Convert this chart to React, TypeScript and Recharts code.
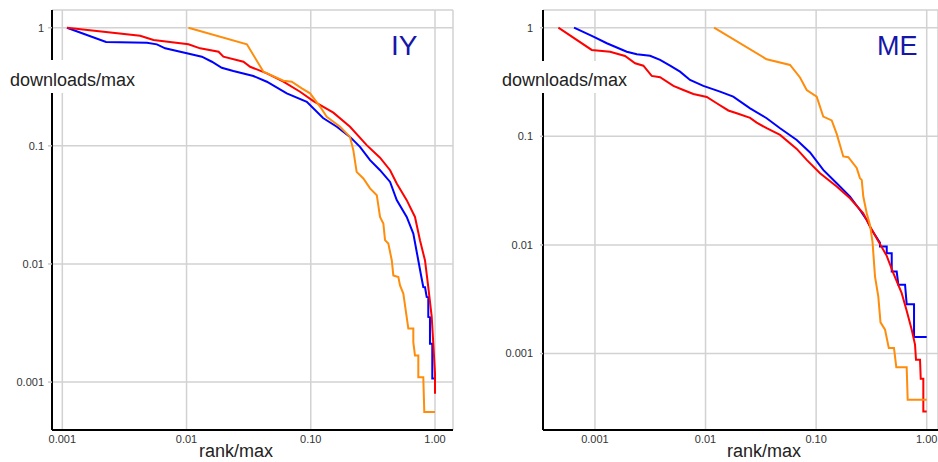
import React from "react";
import { LineChart, Line, XAxis, YAxis, CartesianGrid } from "recharts";

const FONT = '"Liberation Sans", Arial, Helvetica, sans-serif';

// tick values and labels
const xTicks = [0.001, 0.01, 0.1, 1];
const xTickLabels = ["0.001", "0.01", "0.10", "1.00"];
const yTicks = [0.001, 0.01, 0.1, 1];
const yTickLabels = ["0.001", "0.01", "0.1", "1"];

// ---- IY panel ----
const iyBlueRank = [0.00109, 0.00225, 0.0048, 0.00577, 0.00673, 0.01005, 0.01328, 0.016, 0.0192, 0.0238, 0.0345, 0.0443, 0.0641, 0.0929, 0.1256, 0.162, 0.207, 0.249, 0.3, 0.361, 0.435, 0.492, 0.592, 0.669, 0.734, 0.772, 0.805, 0.831, 0.857, 0.883, 0.883, 0.911, 0.911, 0.951, 0.951, 0.982];
const iyBlueDownloads = [1, 0.757, 0.746, 0.723, 0.669, 0.607, 0.568, 0.515, 0.458, 0.43, 0.39, 0.349, 0.278, 0.236, 0.172, 0.145, 0.119, 0.098, 0.0757, 0.0622, 0.0495, 0.0347, 0.025, 0.0181, 0.0107, 0.00802, 0.00638, 0.00635, 0.00525, 0.00522, 0.00356, 0.00353, 0.00211, 0.00211, 0.00107, 0.00107];

const iyRedRank = [0.00109, 0.00423, 0.00542, 0.01036, 0.01286, 0.0181, 0.0198, 0.0287, 0.0325, 0.0443, 0.0602, 0.082, 0.105, 0.152, 0.207, 0.282, 0.361, 0.435, 0.492, 0.592, 0.69, 0.757, 0.831, 0.883, 0.941, 0.969, 1.0, 1.0];
const iyRedDownloads = [1, 0.855, 0.787, 0.723, 0.669, 0.626, 0.568, 0.515, 0.467, 0.411, 0.349, 0.287, 0.239, 0.191, 0.145, 0.1014, 0.0794, 0.0622, 0.048, 0.0347, 0.025, 0.0159, 0.0107, 0.00638, 0.00356, 0.00211, 0.00118, 0.000797];

const iyOrangeRank = [0.01036, 0.0306, 0.0416, 0.0602, 0.0703, 0.0847, 0.0987, 0.119, 0.1345, 0.172, 0.207, 0.22, 0.234, 0.265, 0.3, 0.34, 0.361, 0.384, 0.396, 0.421, 0.449, 0.462, 0.507, 0.523, 0.556, 0.61, 0.669, 0.669, 0.69, 0.734, 0.734, 0.805, 0.82, 1.0];
const iyOrangeDownloads = [1, 0.723, 0.424, 0.356, 0.349, 0.306, 0.278, 0.214, 0.176, 0.145, 0.119, 0.092, 0.0602, 0.0529, 0.0436, 0.0382, 0.025, 0.022, 0.0159, 0.0149, 0.0107, 0.008, 0.00776, 0.00659, 0.00561, 0.00284, 0.00284, 0.00218, 0.00168, 0.00168, 0.0011, 0.0011, 0.000557, 0.000557];

// ---- ME panel ----
const meBlueRank = [0.000647, 0.000968, 0.00128, 0.00194, 0.00239, 0.00315, 0.00388, 0.00478, 0.00588, 0.00724, 0.00955, 0.01352, 0.0178, 0.0253, 0.0357, 0.0472, 0.0668, 0.0881, 0.116, 0.1535, 0.2025, 0.249, 0.2868, 0.318, 0.378, 0.378, 0.435, 0.435, 0.4826, 0.4826, 0.5354, 0.554, 0.637, 0.659, 0.768, 0.768, 1.0];
const meBlueDownloads = [1, 0.826, 0.719, 0.601, 0.569, 0.552, 0.505, 0.447, 0.394, 0.33, 0.291, 0.258, 0.232, 0.181, 0.1467, 0.1187, 0.0927, 0.0711, 0.0491, 0.037, 0.0279, 0.021, 0.017, 0.01377, 0.01045, 0.00966, 0.00966, 0.0084, 0.0084, 0.00569, 0.00569, 0.0043, 0.0043, 0.00285, 0.00285, 0.00142, 0.00142];

const meRedRank = [0.000467, 0.000935, 0.00137, 0.00187, 0.00231, 0.00274, 0.00326, 0.00388, 0.00512, 0.0063, 0.00776, 0.01026, 0.01262, 0.01607, 0.01914, 0.0253, 0.029, 0.0357, 0.0472, 0.0668, 0.0822, 0.1085, 0.1535, 0.2025, 0.267, 0.307, 0.353, 0.435, 0.499, 0.594, 0.659, 0.732, 0.784, 0.8, 0.87, 0.883, 0.932, 0.932, 1.0];
const meRedDownloads = [1, 0.624, 0.601, 0.549, 0.47, 0.447, 0.36, 0.35, 0.291, 0.267, 0.2455, 0.2304, 0.2016, 0.173, 0.163, 0.148, 0.1337, 0.1187, 0.103, 0.0766, 0.0607, 0.0458, 0.0345, 0.0269, 0.0196, 0.01476, 0.01155, 0.00794, 0.0055, 0.0036, 0.00248, 0.00166, 0.00121, 0.000877, 0.000877, 0.000586, 0.000586, 0.000293, 0.000293];

const meOrangeRank = [0.01194, 0.0357, 0.0581, 0.0715, 0.0822, 0.1012, 0.116, 0.1384, 0.1535, 0.176, 0.1955, 0.2328, 0.249, 0.2584, 0.267, 0.2868, 0.307, 0.3236, 0.3408, 0.365, 0.382, 0.42, 0.4543, 0.506, 0.531, 0.659, 0.673, 1.0];
const meOrangeDownloads = [1, 0.512, 0.454, 0.348, 0.267, 0.232, 0.152, 0.14, 0.1052, 0.0653, 0.0642, 0.0512, 0.0412, 0.0397, 0.0279, 0.0196, 0.0153, 0.01068, 0.00512, 0.00335, 0.00194, 0.00166, 0.001124, 0.001124, 0.000748, 0.000748, 0.000376, 0.000376];

const BLUE = "#0000ff";
const RED = "#ff0000";
const ORANGE = "#ff8c0a";

const zip = (xs: number[], ys: number[]) => xs.map((x, i) => ({ x, y: ys[i] }));

const fmtX = (v: number) => {
  const i = xTicks.indexOf(v);
  return i >= 0 ? xTickLabels[i] : String(v);
};
const fmtY = (v: number) => {
  const i = yTicks.indexOf(v);
  return i >= 0 ? yTickLabels[i] : String(v);
};

type Series = { name: string; color: string; data: { x: number; y: number }[] };

function Panel(props: {
  left: number;
  width: number;
  yAxisWidth: number;
  marginRight: number;
  xDomain: [number, number];
  yDomain: [number, number];
  yTickSize: number;
  yTickMargin: number;
  series: Series[];
}) {
  const { left, width, yAxisWidth, marginRight, xDomain, yDomain, yTickSize, yTickMargin, series } = props;
  return (
    <div style={{ position: "absolute", left, top: 0 }}>
      <LineChart width={width} height={462} margin={{ top: 10, right: marginRight, bottom: 0, left: 0 }}>
        <CartesianGrid stroke="#d2d2d2" strokeWidth={1.5} />
        <XAxis
          type="number"
          dataKey="x"
          scale="log"
          domain={xDomain}
          allowDataOverflow
          ticks={xTicks}
          interval={0}
          tickFormatter={fmtX}
          height={32}
          tickSize={0}
          tickMargin={5}
          tickLine={false}
          axisLine={{ stroke: "#000", strokeWidth: 2 }}
          tick={{ fill: "#333", fontSize: 11, fontFamily: FONT }}
        />
        <YAxis
          type="number"
          dataKey="y"
          scale="log"
          domain={yDomain}
          allowDataOverflow
          ticks={yTicks}
          interval={0}
          tickFormatter={fmtY}
          width={yAxisWidth}
          tickSize={yTickSize}
          tickMargin={yTickMargin}
          tickLine={{ stroke: "#c8c8c8", strokeWidth: 1.5 }}
          axisLine={{ stroke: "#000", strokeWidth: 2 }}
          tick={{ fill: "#333", fontSize: 11, fontFamily: FONT }}
        />
        {series.map((s) => (
          <Line
            key={s.name}
            name={s.name}
            data={s.data}
            dataKey="y"
            type="linear"
            stroke={s.color}
            strokeWidth={2}
            dot={false}
            activeDot={false}
            isAnimationActive={false}
          />
        ))}
      </LineChart>
    </div>
  );
}

export default function App() {
  const iySeries: Series[] = [
    { name: "blue", color: BLUE, data: zip(iyBlueRank, iyBlueDownloads) },
    { name: "red", color: RED, data: zip(iyRedRank, iyRedDownloads) },
    { name: "orange", color: ORANGE, data: zip(iyOrangeRank, iyOrangeDownloads) },
  ];
  const meSeries: Series[] = [
    { name: "blue", color: BLUE, data: zip(meBlueRank, meBlueDownloads) },
    { name: "red", color: RED, data: zip(meRedRank, meRedDownloads) },
    { name: "orange", color: ORANGE, data: zip(meOrangeRank, meOrangeDownloads) },
  ];
  return (
    <div style={{ position: "absolute", left: 0, top: 0, width: 938, height: 462, background: "#fff", overflow: "hidden" }}>
      <Panel
        left={0}
        width={470}
        yAxisWidth={52}
        marginRight={17}
        xDomain={[0.000826, 1.396]}
        yDomain={[0.000393, 1.412]}
        yTickSize={4}
        yTickMargin={4}
        series={iySeries}
      />
      <Panel
        left={470}
        width={468}
        yAxisWidth={73}
        marginRight={0}
        xDomain={[0.000339, 1.265]}
        yDomain={[0.000198, 1.455]}
        yTickSize={3}
        yTickMargin={7}
        series={meSeries}
      />
      <svg width={938} height={462} style={{ position: "absolute", left: 0, top: 0, pointerEvents: "none" }}>
        <rect x={5} y={60} width={135} height={33} fill="#fff" />
        <text x={10} y={85.8} fontSize={18} fontFamily={FONT} fill="#222">downloads/max</text>
        <rect x={498} y={61} width={132} height={32} fill="#fff" />
        <text x={502} y={85.8} fontSize={18} fontFamily={FONT} fill="#222">downloads/max</text>
        <text x={199} y={456.5} fontSize={18} fontFamily={FONT} fill="#222">rank/max</text>
        <text x={727} y={456.5} fontSize={18} fontFamily={FONT} fill="#222">rank/max</text>
        <text x={391} y={55} fontSize={28} fontFamily={FONT} fill="#1616a8">IY</text>
        <text x={877} y={55} fontSize={27} fontFamily={FONT} fill="#1616a8">ME</text>
      </svg>
    </div>
  );
}
